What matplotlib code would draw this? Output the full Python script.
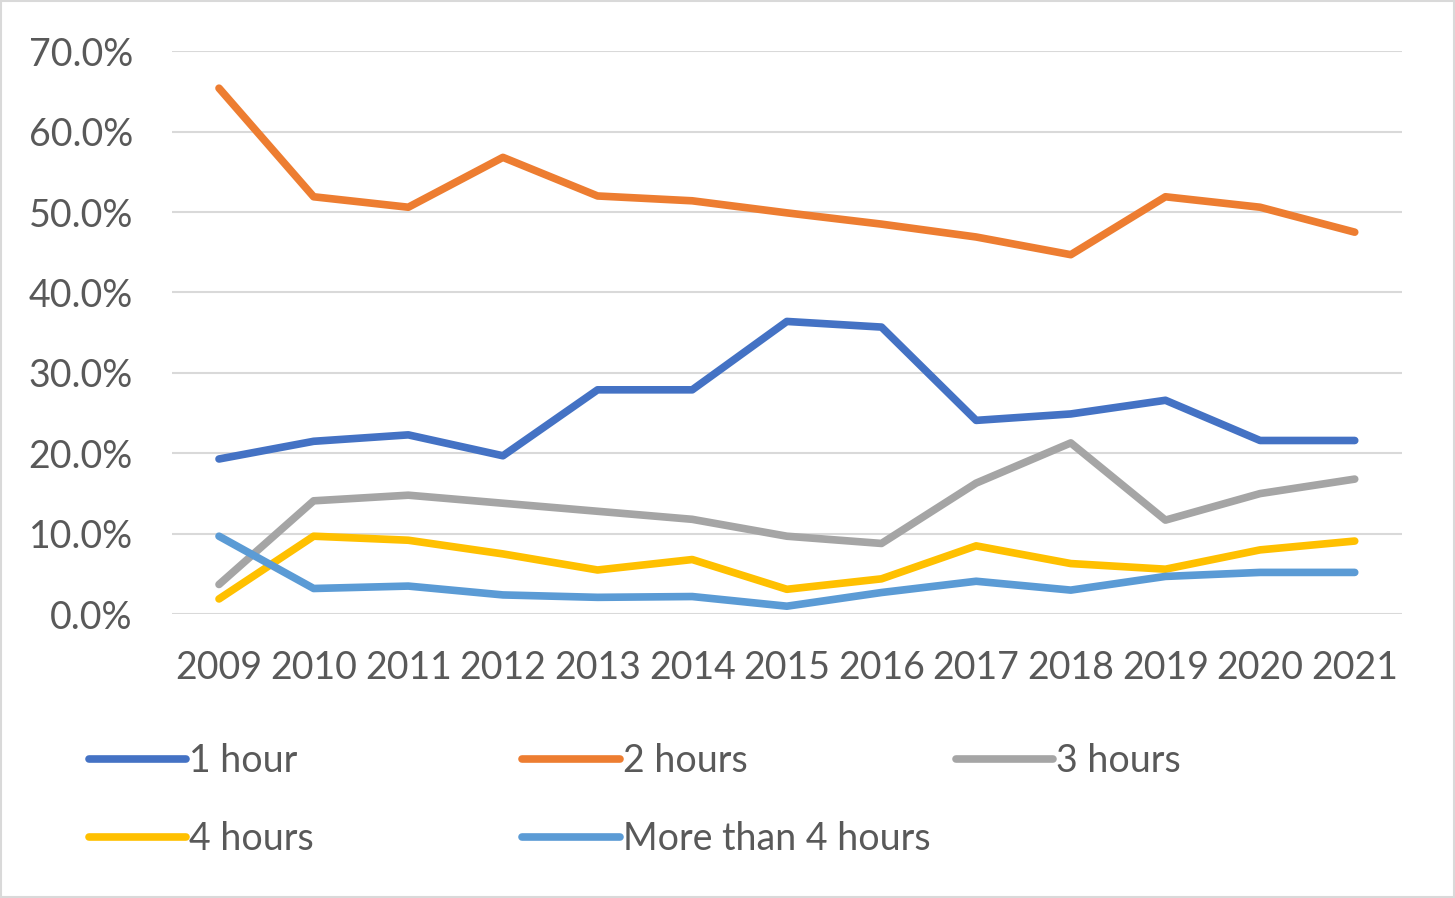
import matplotlib.pyplot as plt
from matplotlib.patches import Rectangle

plt.rcParams['font.family'] = ['Lato', 'DejaVu Sans']

years = ['2009', '2010', '2011', '2012', '2013', '2014', '2015',
         '2016', '2017', '2018', '2019', '2020', '2021']

one_hour = [19.3, 21.5, 22.3, 19.7, 27.9, 27.9, 36.4, 35.7, 24.1, 24.9, 26.6, 21.6, 21.6]
two_hours = [65.4, 51.9, 50.6, 56.8, 52.0, 51.4, 49.9, 48.5, 46.9, 44.7, 51.9, 50.6, 47.5]
three_hours = [3.7, 14.1, 14.8, 13.8, 12.8, 11.8, 9.7, 8.8, 16.3, 21.3, 11.7, 15.0, 16.8]
four_hours = [1.9, 9.7, 9.2, 7.5, 5.5, 6.8, 3.1, 4.4, 8.5, 6.3, 5.6, 8.0, 9.1]
more_than_four = [9.7, 3.2, 3.5, 2.4, 2.1, 2.2, 1.0, 2.7, 4.1, 3.0, 4.7, 5.2, 5.2]

series = [
    ('1 hour', one_hour, '#4472C4'),
    ('2 hours', two_hours, '#ED7D31'),
    ('3 hours', three_hours, '#A5A5A5'),
    ('4 hours', four_hours, '#FFC000'),
    ('More than 4 hours', more_than_four, '#5B9BD5'),
]

fig = plt.figure(figsize=(14.55, 8.98), dpi=100)
ax = fig.add_axes([0.118, 0.316, 0.8456, 0.627])

x = list(range(len(years)))
lines = {}
for name, vals, color in series:
    ln, = ax.plot(x, vals, color=color, lw=5.5, solid_capstyle='round',
                  solid_joinstyle='round', label=name)
    lines[name] = ln

ax.set_xlim(-0.5, len(years) - 0.5)
ax.set_ylim(0, 70)
ax.set_yticks(range(0, 71, 10))
ax.set_yticklabels([f'{v:.1f}%' for v in range(0, 71, 10)])
ax.set_xticks(x)
ax.set_xticklabels(years)
ax.grid(axis='y', color='#D9D9D9', lw=1.5)
ax.set_axisbelow(True)
for s in ax.spines.values():
    s.set_visible(False)
ax.tick_params(axis='both', length=0, labelsize=27, labelcolor='#595959')
ax.tick_params(axis='y', pad=28)
ax.tick_params(axis='x', pad=26)

# legend, three columns laid out like Excel
cols = [['1 hour', '4 hours'], ['2 hours', 'More than 4 hours'], ['3 hours']]
xs = [0.061, 0.359, 0.657]
for cx, names in zip(xs, cols):
    leg = fig.legend(handles=[lines[n] for n in names], loc='upper left',
                     bbox_to_anchor=(cx, 0.173), bbox_transform=fig.transFigure,
                     frameon=False, fontsize=27, handlelength=2.6,
                     handletextpad=0.08, labelspacing=1.12, borderaxespad=0,
                     borderpad=0)
    for t in leg.get_texts():
        t.set_color('#595959')

fig.add_artist(Rectangle((0.0008, 0.0012), 0.9984, 0.9976, transform=fig.transFigure,
                         fill=False, edgecolor='#D9D9D9', lw=1.5))

fig.savefig('out.png', dpi=100)
